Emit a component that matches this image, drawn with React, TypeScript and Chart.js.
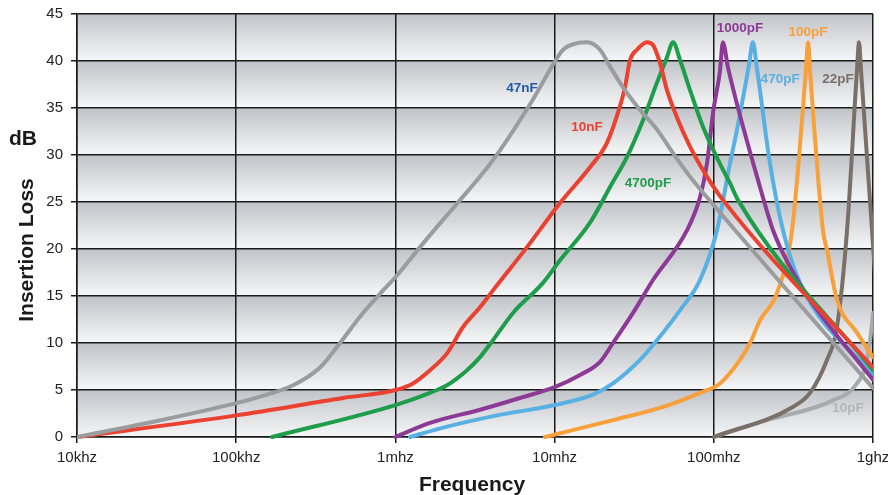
import React, { useEffect, useRef } from "react";
import { Chart, registerables } from "chart.js";

Chart.register(...registerables);

const FONT = "'Liberation Sans', Arial, Helvetica, sans-serif";

// X axis (frequency, Hz) tick values and labels
const xTickValues = [1e4, 1e5, 1e6, 1e7, 1e8, 1e9];
const xTickLabels = ["10khz", "100khz", "1mhz", "10mhz", "100mhz", "1ghz"];
const yMin = 0;
const yMax = 45;
const yStep = 5;

// Series: frequency (Hz) and insertion loss (dB)
const c47nFFreq = [1e4, 3.18e4, 1e5, 1.411e5, 2.275e5, 3.36e5, 4.49e5, 5.99e5, 8.36e5, 1.0e6, 1.427e6, 1.99e6, 2.546e6, 3.4e6, 4.54e6, 7.31e6, 1e7, 1.13e7, 1.38e7, 1.6e7, 1.93e7, 2.23e7, 2.69e7, 3.44e7, 4.4e7, 5.55e7, 7.09e7, 9.06e7, 1e9];
const c47nFDb = [0, 1.7, 3.6, 4.3, 5.5, 7.4, 10.0, 12.8, 15.6, 17.0, 20.2, 23.1, 25.2, 27.7, 30.5, 35.9, 39.9, 41.2, 41.9, 42.0, 41.2, 39.4, 37.2, 34.8, 32.7, 30.2, 27.7, 25.5, 5.2];

const c10nFFreq = [1e4, 1e5, 4.69e5, 1e6, 1.29e6, 1.649e6, 2.109e6, 2.658e6, 3.4e6, 4.1e6, 6.71e6, 1.081e7, 1.669e7, 2.133e7, 2.5e7, 2.767e7, 2.978e7, 3.293e7, 3.8e7, 4.15e7, 4.59e7, 5.08e7, 5.87e7, 7.09e7, 9.06e7, 1.143e8, 1e9];
const c10nFDb = [0, 2.3, 4.15, 5.0, 5.7, 7.1, 8.9, 11.7, 13.8, 15.6, 20.2, 24.9, 28.7, 31.3, 34.5, 37.2, 40.1, 41.2, 42.0, 41.7, 39.8, 36.9, 34.0, 30.9, 27.7, 25.2, 7.4];

const c4700pFFreq = [1.68e5, 1e6, 1.649e6, 2.109e6, 2.817e6, 3.4e6, 4.1e6, 5.48e6, 8.45e6, 1.081e7, 1.669e7, 2.23e7, 2.85e7, 3.592e7, 4.395e7, 5.08e7, 5.55e7, 6.14e7, 7.09e7, 8.55e7, 1.09e8, 1.264e8, 1.42e8, 1e9];
const c4700pFDb = [0, 3.4, 4.7, 5.5, 7.1, 8.5, 10.3, 13.2, 16.4, 18.8, 22.8, 26.6, 29.8, 33.7, 37.7, 40.4, 42.0, 40.1, 36.9, 33.0, 29.1, 27.0, 25.2, 7.1];

const c1000pFFreq = [1e6, 1.649e6, 3.4e6, 6.06e6, 1e7, 1.444e7, 1.93e7, 2.327e7, 3.108e7, 4.15e7, 6.79e7, 8.19e7, 9.06e7, 9.89e7, 1.094e8, 1.14e8, 1.228e8, 1.95e8, 2.355e8, 3.01e8, 4.02e8, 1e9];
const c1000pFDb = [0, 1.5, 2.9, 4.15, 5.3, 6.6, 8.0, 10.0, 13.2, 16.7, 22.0, 25.5, 29.1, 34.5, 39.0, 42.0, 39.3, 26.6, 22.0, 18.1, 14.6, 6.1];

const c470pFFreq = [1.235e6, 2.109e6, 4.35e6, 1e7, 1.742e7, 2.327e7, 3.436e7, 4.395e7, 6.14e7, 8.19e7, 1.047e8, 1.264e8, 1.399e8, 1.664e8, 1.76e8, 1.867e8, 2.254e8, 2.72e8, 3.48e8, 1e9];
const c470pFDb = [0, 1.1, 2.3, 3.4, 4.5, 5.7, 8.2, 10.3, 13.5, 16.7, 22.0, 29.1, 32.7, 39.6, 42.0, 39.2, 29.1, 22.0, 16.4, 6.6];

const c100pFFreq = [8.7e6, 2.327e7, 4.8e7, 8.19e7, 1.094e8, 1.46e8, 1.688e8, 1.95e8, 2.49e8, 3.1e8, 3.79e8, 3.91e8, 4.02e8, 4.85e8, 5.14e8, 5.94e8, 7.93e8, 1e9];
const c100pFDb = [0, 1.8, 3.2, 4.7, 5.7, 8.2, 10.0, 12.4, 15.3, 22.0, 39.0, 42.0, 39.0, 22.0, 19.9, 14.6, 11.1, 8.5];

const c22pFFreq = [1e8, 3.14e8, 4.02e8, 5.14e8, 5.94e8, 6.87e8, 7.93e8, 8.17e8, 8.41e8, 9.86e8, 1.045e9];
const c22pFDb = [0, 3.2, 4.7, 8.2, 11.7, 22.0, 39.0, 42.0, 39.0, 22.0, 15.6];

const c10pFFreq = [1e8, 2.16e8, 5.61e8, 7.93e8, 9.17e8, 1e9, 1.07e9];
const c10pFDb = [0, 1.8, 3.9, 5.7, 8.2, 13.2, 19.9];

// Series names, colours
const seriesNames = ["47nF", "10nF", "4700pF", "1000pF", "470pF", "100pF", "22pF", "10pF"];
const seriesColors = ["#9b9c9e", "#ea4130", "#1e9d4b", "#8d3a97", "#58b0e3", "#f8a03a", "#7b7067", "#a8aaad"];
const seriesFreqs = [c47nFFreq, c10nFFreq, c4700pFFreq, c1000pFFreq, c470pFFreq, c100pFFreq, c22pFFreq, c10pFFreq];
const seriesDbs = [c47nFDb, c10nFDb, c4700pFDb, c1000pFDb, c470pFDb, c100pFDb, c22pFDb, c10pFDb];

// Curve labels placed in data coordinates
const labelTexts = ["47nF", "10nF", "4700pF", "1000pF", "100pF", "470pF", "22pF", "10pF"];
const labelFreqs = [6.24e6, 1.6e7, 3.86e7, 1.46e8, 3.91e8, 2.61e8, 6.03e8, 6.97e8];
const labelDbs = [37.1, 32.9, 27.0, 43.5, 43.1, 38.1, 38.1, 3.1];
const labelColors = ["#2159a6", "#ea4130", "#1e9d4b", "#8d3a97", "#f8a03a", "#58b0e3", "#7b7067", "#b3b5b8"];

const xTitle = "Frequency";
const yTitle = "Insertion Loss";
const yUnit = "dB";

const bandPlugin = {
  id: "bands",
  beforeDraw(chart: any) {
    const { ctx, chartArea, scales } = chart;
    const y = scales.y;
    ctx.save();
    for (let v = yMin; v < yMax; v += yStep) {
      const top = y.getPixelForValue(v + yStep);
      const bottom = y.getPixelForValue(v);
      const g = ctx.createLinearGradient(0, top, 0, bottom);
      g.addColorStop(0, "#c0c3c8");
      g.addColorStop(1, "#f6f7f8");
      ctx.fillStyle = g;
      ctx.fillRect(chartArea.left, top, chartArea.right - chartArea.left, bottom - top);
    }
    ctx.restore();
  },
};

const textPlugin = {
  id: "texts",
  afterDatasetsDraw(chart: any) {
    const { ctx, scales } = chart;
    ctx.save();
    ctx.font = `bold 13.5px ${FONT}`;
    ctx.textAlign = "center";
    ctx.textBaseline = "middle";
    labelTexts.forEach((t, i) => {
      ctx.fillStyle = labelColors[i];
      ctx.fillText(t, scales.x.getPixelForValue(labelFreqs[i]), scales.y.getPixelForValue(labelDbs[i]));
    });
    ctx.restore();
  },
  afterDraw(chart: any) {
    const { ctx, chartArea } = chart;
    ctx.save();
    ctx.fillStyle = "#1a1a1a";
    ctx.font = `bold 21px ${FONT}`;
    ctx.textAlign = "center";
    ctx.textBaseline = "alphabetic";
    ctx.fillText(xTitle, (chartArea.left + chartArea.right) / 2 - 3, 491);
    ctx.fillText(yUnit, 23, 145);
    ctx.translate(33, 250);
    ctx.rotate(-Math.PI / 2);
    ctx.fillText(yTitle, 0, 0);
    ctx.restore();
  },
};

export default function App() {
  const ref = useRef<HTMLCanvasElement>(null);
  useEffect(() => {
    const canvas = ref.current;
    if (!canvas) return;
    const datasets = seriesNames.map((name, i) => ({
      label: name,
      data: seriesFreqs[i].map((f, j) => ({ x: f, y: seriesDbs[i][j] })),
      borderColor: seriesColors[i],
      backgroundColor: seriesColors[i],
      borderWidth: 4,
      pointRadius: 0,
      fill: false,
      cubicInterpolationMode: "monotone" as const,
      borderJoinStyle: "round" as const,
      borderCapStyle: "round" as const,
      clip: { left: 0, top: 0, right: 0, bottom: 2 },
      order: i,
    }));
    const chart = new Chart(canvas, {
      type: "line",
      data: { datasets },
      options: {
        animation: false,
        responsive: true,
        maintainAspectRatio: false,
        layout: { padding: { left: 0, right: 15, top: 14, bottom: 0 } },
        plugins: { legend: { display: false }, tooltip: { enabled: false } },
        scales: {
          x: {
            type: "logarithmic",
            min: 1e4,
            max: 1e9,
            afterBuildTicks: (scale: any) => {
              scale.ticks = xTickValues.map((v) => ({ value: v }));
            },
            afterFit: (scale: any) => {
              scale.height = 58;
              scale.paddingLeft = 0;
              scale.paddingRight = 0;
            },
            ticks: {
              autoSkip: false,
              maxRotation: 0,
              padding: 6,
              color: "#222",
              font: { family: FONT, size: 15 },
              callback: (_v: any, i: number) => xTickLabels[i],
            },
            grid: { color: "#1a1a1a", lineWidth: 1.5, tickLength: 6, tickColor: "#1a1a1a" },
            border: { color: "#1a1a1a", width: 1.5 },
          },
          y: {
            type: "linear",
            min: yMin,
            max: yMax,
            afterFit: (scale: any) => {
              scale.width = 77;
              scale.paddingTop = 0;
              scale.paddingBottom = 0;
            },
            ticks: {
              stepSize: yStep,
              padding: 8,
              color: "#222",
              font: { family: FONT, size: 15 },
            },
            grid: { color: "#1a1a1a", lineWidth: 1.5, tickLength: 6, tickColor: "#1a1a1a" },
            border: { color: "#1a1a1a", width: 1.5 },
          },
        },
      },
      plugins: [bandPlugin, textPlugin],
    });
    return () => chart.destroy();
  }, []);
  return (
    <div style={{ position: "absolute", left: 0, top: 0, width: 888, height: 495, background: "#fff" }}>
      <canvas ref={ref} />
    </div>
  );
}
